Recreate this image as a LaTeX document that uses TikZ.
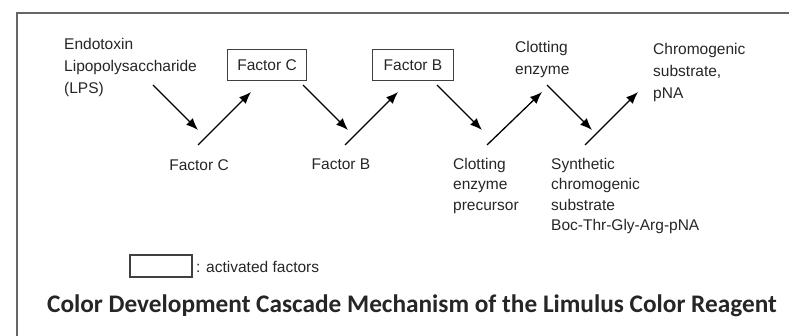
\documentclass[tikz,border=0pt]{standalone}
\usepackage{fontspec}
\setmainfont{Liberation Sans}
\newfontfamily\titlefont{Carlito}
\usetikzlibrary{arrows.meta}

\begin{document}
\begin{tikzpicture}[x=1pt,y=-1pt,
    label/.style={font={\fontsize{15.5}{21}\selectfont},inner sep=0pt,text=black!85},
    lefttext/.style={label,align=left,anchor=north west},
    active/.style={label,draw=black!75,line width=1.4pt,minimum height=31pt,inner sep=0pt},
    flow/.style={line width=1.3pt,-{Latex[length=12pt,width=9.5pt]}}]
\useasboundingbox(0,0) rectangle (789,336);
%\draw[red](0,0) rectangle (789,336);
\draw[line width=2pt,black!60](17,336)--(17,13)--(800,13);

% upper row
\node[lefttext,font={\fontsize{15.5}{22}\selectfont}](lps) at (64,38)
    {Endotoxin\\Lipopolysaccharide\\(LPS)};
\node[active,minimum width=79pt](facCa) at (267,65){Factor C};
\node[active,minimum width=81pt](facBa) at (413,65){Factor B};
\node[lefttext,font={\fontsize{15.5}{22}\selectfont}](clot) at (515,41){Clotting\\enzyme};
\node[lefttext,font={\fontsize{15.5}{22}\selectfont}](pna) at (653,43)
    {Chromogenic\\substrate,\\pNA};

% lower row
\node[label,anchor=north](facC) at (199,159){Factor C};
\node[label,anchor=north](facB) at (341,159){Factor B};
\node[lefttext,font={\fontsize{15.5}{20.5}\selectfont}](pre) at (453,158)
    {Clotting\\enzyme\\precursor};
\node[lefttext,font={\fontsize{15.5}{20.5}\selectfont}](sub) at (551,158)
    {Synthetic\\chromogenic\\substrate\\Boc-Thr-Gly-Arg-pNA};

% arrows
\foreach \x [count=\i] in {153,303,437,547}{
    \coordinate (d\i s) at (\x,85);
    \coordinate (d\i e) at (\x+45,130);
    \draw[flow](d\i s)--(d\i e);
}
\foreach \x/\y [count=\i] in {198/251,345/398,487/542,585/638}{
    \coordinate (u\i s) at (\x,145);
    \coordinate (u\i e) at (\y,92);
    \draw[flow](u\i s)--(u\i e);
}

% legend
\node[active,minimum width=62pt,minimum height=22pt](key) at (161,266){};
\node[label,anchor=west](keytext) at (196,267){: activated factors};

\node[font={\titlefont\bfseries\fontsize{25.3}{30}\selectfont},text=black!85,inner sep=0pt](title)
    at (412,306){Color Development Cascade Mechanism of the Limulus Color Reagent};
\end{tikzpicture}
\end{document}
